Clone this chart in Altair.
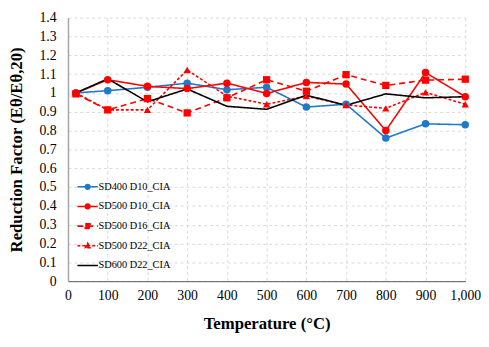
import altair as alt
import pandas as pd

temps = [20, 100, 200, 300, 400, 500, 600, 700, 800, 900, 1000]
series_names = ["SD400 D10_CIA", "SD500 D10_CIA", "SD500 D16_CIA", "SD500 D22_CIA", "SD600 D22_CIA"]
sd400_d10 = [1.0, 1.012, 1.03, 1.052, 1.017, 1.03, 0.925, 0.94, 0.76, 0.836, 0.831]
sd500_d10 = [1.0, 1.07, 1.035, 1.023, 1.052, 0.997, 1.056, 1.047, 0.80, 1.108, 0.98]
sd500_d16 = [0.995, 0.91, 0.97, 0.894, 0.974, 1.07, 1.009, 1.097, 1.04, 1.068, 1.073]
sd500_d22 = [1.0, 0.91, 0.91, 1.122, 0.983, 0.94, 0.983, 0.936, 0.918, 1.003, 0.94]
sd600_d22 = [1.0, 1.075, 0.953, 1.021, 0.929, 0.913, 0.988, 0.934, 0.995, 0.974, 0.98]
y_ticks = [0, 0.1, 0.2, 0.3, 0.4, 0.5, 0.6, 0.7, 0.8, 0.9, 1.0, 1.1, 1.2, 1.3, 1.4]
x_ticks = [0, 100, 200, 300, 400, 500, 600, 700, 800, 900, 1000]

colors = ["#1f78c8", "#ff0000", "#ff0000", "#ff0000", "#000000"]
dashes = [[1, 0], [1, 0], [6, 4], [3, 2], [1, 0]]
legend_paths = [
    "M-1.3,0L1.3,0M0.3,0A0.3,0.3,0,1,1,-0.3,0A0.3,0.3,0,1,1,0.3,0Z",
    "M-1.3,0L1.3,0M0.3,0A0.3,0.3,0,1,1,-0.3,0A0.3,0.3,0,1,1,0.3,0Z",
    "M-1.3,0L1.3,0M-0.3,-0.3L0.3,-0.3L0.3,0.3L-0.3,0.3Z",
    "M-1.3,0L1.3,0M0,-0.34L0.3,0.24L-0.3,0.24Z",
    "M-1.3,0L1.3,0",
]

rows = []
for name, vals in zip(series_names, [sd400_d10, sd500_d10, sd500_d16, sd500_d22, sd600_d22]):
    for t, v in zip(temps, vals):
        rows.append({"series": name, "temp": t, "value": v})
df = pd.DataFrame(rows)

FONT = "Liberation Serif, Times New Roman, serif"

color_scale = alt.Scale(domain=series_names, range=colors)
dash_scale = alt.Scale(domain=series_names, range=dashes)

x_enc = alt.X("temp:Q", scale=alt.Scale(domain=[0, 1000], nice=False),
              axis=alt.Axis(values=x_ticks, format=",d", labelOverlap=False,
                            labelFont=FONT, titleFont=FONT,
                            labelFlush=False, title="Temperature (°C)"))
y_enc = alt.Y("value:Q", scale=alt.Scale(domain=[0, 1.4], nice=False),
              axis=alt.Axis(values=y_ticks, format=".1~f", labelOverlap=False,
                            labelFont=FONT, titleFont=FONT,
                            title="Reduction Factor (Eθ/Eθ,20)"))

base = alt.Chart(df)

lines = base.mark_line(strokeWidth=1.6).encode(
    x=x_enc,
    y=y_enc,
    stroke=alt.Stroke("series:N", scale=color_scale, sort=series_names),
    strokeDash=alt.StrokeDash("series:N", scale=dash_scale, sort=series_names),
)

def markers(names, shape, size):
    return base.transform_filter(
        alt.FieldOneOfPredicate(field="series", oneOf=names)
    ).mark_point(filled=True, shape=shape, size=size, opacity=1, strokeWidth=0).encode(
        x=x_enc, y=y_enc,
        fill=alt.Fill("series:N", scale=color_scale, sort=series_names),
    )

circles = markers(["SD400 D10_CIA", "SD500 D10_CIA"], "circle", 58)
squares = markers(["SD500 D16_CIA"], "square", 55)
triangles = markers(["SD500 D22_CIA"], "triangle-up", 55)

legend_layer = base.transform_filter("false").mark_point(
    filled=False, size=256, strokeWidth=1.6, opacity=1
).encode(
    x=x_enc, y=y_enc,
    stroke=alt.Stroke("series:N", scale=color_scale, sort=series_names,
                      legend=alt.Legend(title=None, orient="none", legendX=11, legendY=163,
                                        labelFont=FONT)),
    fill=alt.Fill("series:N", scale=color_scale, sort=series_names),
    shape=alt.Shape("series:N", scale=alt.Scale(domain=series_names, range=legend_paths),
                    sort=series_names),
    strokeDash=alt.StrokeDash("series:N", scale=dash_scale, sort=series_names),
)

chart = alt.layer(lines, circles, squares, triangles, legend_layer).properties(
    width=404, height=268,
    autosize="none",
    padding={"left": 61, "top": 7, "right": 16, "bottom": 56},
).configure(font=FONT).configure_view(stroke=None).configure_axis(
    labelFont=FONT, titleFont=FONT, labelFontSize=14, titleFontSize=17,
    labelColor="#000000", titleColor="#000000", titleFontWeight="bold",
    grid=True, gridColor="#d9d9d9", gridDash=[3, 3], ticks=False,
    labelOverlap=False,
).configure_axisX(
    domainColor="#595959", labelPadding=8, titlePadding=13,
).configure_axisY(
    domainColor="#a6a6a6", domainWidth=1.5, labelPadding=12, titlePadding=14,
).configure_legend(
    labelFont=FONT, labelFontSize=10.5, labelColor="#000000",
    symbolSize=256, symbolStrokeWidth=1.6, symbolOpacity=1,
    rowPadding=5, labelOffset=2,
)

chart.save("out.html", embed_options={"renderer": "svg", "actions": False})
